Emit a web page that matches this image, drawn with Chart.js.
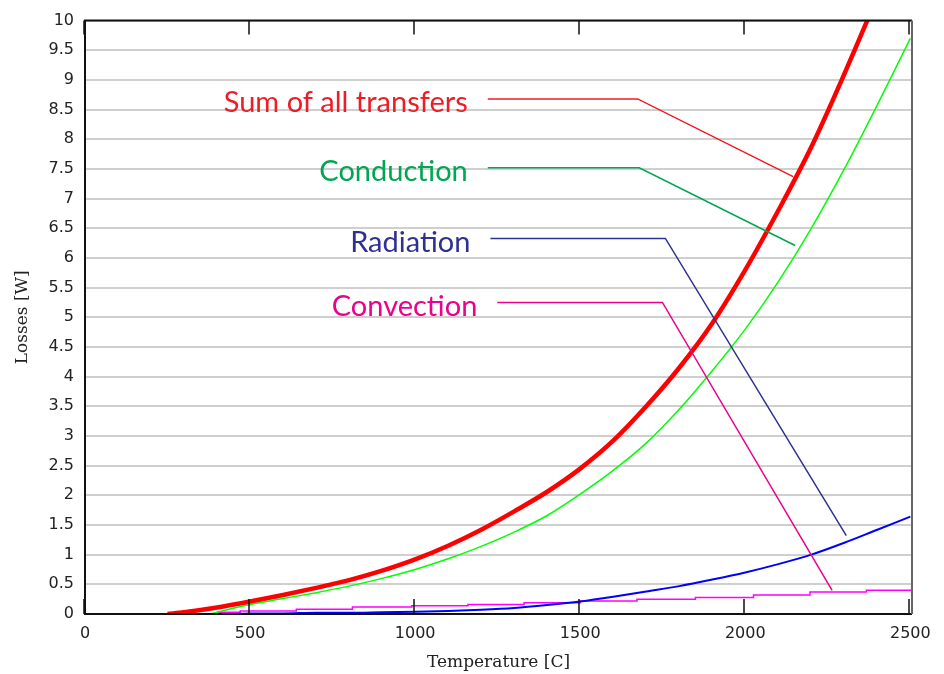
<!DOCTYPE html>
<html>
<head>
<meta charset="utf-8">
<title>Losses vs temperature</title>
<script src="https://cdn.jsdelivr.net/npm/chart.js@4.4.0/dist/chart.umd.min.js"></script>
<style>
  html, body { margin: 0; padding: 0; background: #fff; }
</style>
</head>
<body>
<canvas id="lossChart" width="944" height="674"></canvas>
<script>
// tick labels
const xTicks = [0, 500, 1000, 1500, 2000, 2500];
const yTicks = [0, 0.5, 1, 1.5, 2, 2.5, 3, 3.5, 4, 4.5, 5, 5.5, 6, 6.5, 7, 7.5, 8, 8.5, 9, 9.5, 10];

// Sum of all transfers (red)
const sumTemps = [250, 300, 400, 500, 600, 700, 800, 900, 1000, 1100, 1200, 1300, 1400, 1500, 1600, 1700, 1800, 1900, 2000, 2100, 2200, 2300, 2400];
const sumLosses = [0, 0.03, 0.11, 0.21, 0.32, 0.44, 0.57, 0.73, 0.92, 1.15, 1.42, 1.73, 2.06, 2.45, 2.92, 3.5, 4.15, 4.9, 5.8, 6.8, 7.87, 9.1, 10.4];

// Conduction (green)
const condTemps = [380, 400, 500, 600, 700, 800, 900, 1000, 1100, 1200, 1300, 1400, 1500, 1600, 1700, 1800, 1900, 2000, 2100, 2200, 2300, 2400, 2500];
const condLosses = [0, 0.03, 0.16, 0.26, 0.36, 0.47, 0.6, 0.75, 0.93, 1.14, 1.38, 1.66, 2.02, 2.42, 2.88, 3.45, 4.1, 4.8, 5.6, 6.5, 7.5, 8.58, 9.7];

// Radiation (blue)
const radTemps = [450, 500, 600, 700, 800, 900, 1000, 1100, 1200, 1300, 1400, 1500, 1600, 1700, 1800, 1900, 2000, 2100, 2200, 2300, 2400, 2500];
const radLosses = [0, 0.01, 0.01, 0.02, 0.02, 0.03, 0.04, 0.05, 0.07, 0.1, 0.15, 0.21, 0.29, 0.38, 0.47, 0.58, 0.7, 0.84, 1.0, 1.2, 1.42, 1.64];

// Convection (magenta), steps
const convTemps = [400, 470, 640, 810, 990, 1160, 1330, 1500, 1672, 1849, 2025, 2196, 2367, 2505];
const convLosses = [0.03, 0.05, 0.08, 0.12, 0.14, 0.16, 0.19, 0.22, 0.25, 0.28, 0.32, 0.37, 0.4, 0.4];

// callout labels and their leader lines (data units)
const labelNames = ['Sum of all transfers', 'Conduction', 'Radiation', 'Convection'];
const labelColors = ['#ee1c25', '#00a651', '#2e3192', '#ec008c'];
const leaderTemps = [[1220, 1674, 2145], [1220, 1679, 2151], [1228, 1758, 2306], [1249, 1749, 2263]];
const leaderLosses = [[8.68, 8.68, 7.37], [7.52, 7.52, 6.21], [6.33, 6.33, 1.32], [5.25, 5.25, 0.4]];

function toPoints(xs, ys) {
    return xs.map((x, i) => ({ x: x, y: ys[i] }));
}

// frame, inner tick marks and callout texts
const framePlugin = {
    id: 'frame',
    afterDraw(chart) {
        const ctx = chart.ctx;
        const a = chart.chartArea;
        const x = chart.scales.x;
        const y = chart.scales.y;
        ctx.save();

        ctx.strokeStyle = '#111';
        ctx.lineWidth = 1.5;
        x.ticks.forEach(t => {
            const px = Math.round(x.getPixelForValue(t.value)) - 1;
            ctx.beginPath();
            ctx.moveTo(px, a.bottom);
            ctx.lineTo(px, a.bottom - 15);
            ctx.moveTo(px, a.top);
            ctx.lineTo(px, a.top + 14);
            ctx.stroke();
        });

        ctx.lineWidth = 2;
        ctx.strokeStyle = '#111';
        ctx.beginPath();
        ctx.moveTo(a.right, a.top);
        ctx.lineTo(a.left, a.top);
        ctx.lineTo(a.left, a.bottom);
        ctx.lineTo(a.right, a.bottom);
        ctx.stroke();
        ctx.strokeStyle = '#666';
        ctx.beginPath();
        ctx.moveTo(a.right, a.top);
        ctx.lineTo(a.right, a.bottom);
        ctx.stroke();

        ctx.font = '29px Lato';
        ctx.textAlign = 'right';
        ctx.textBaseline = 'alphabetic';
        labelNames.forEach((name, i) => {
            ctx.fillStyle = labelColors[i];
            const px = x.getPixelForValue(leaderTemps[i][0]) - 20;
            const py = y.getPixelForValue(leaderLosses[i][0]) + 13.5;
            ctx.fillText(name, px, py);
        });
        ctx.restore();
    }
};

const leaderSets = labelNames.map((name, i) => ({
    label: name + ' leader',
    data: toPoints(leaderTemps[i], leaderLosses[i]),
    borderColor: labelColors[i],
    borderWidth: 1.5,
    pointRadius: 0,
    tension: 0
}));

new Chart(document.getElementById('lossChart'), {
    type: 'line',
    data: {
        datasets: leaderSets.concat([
            {
                label: 'Sum of all transfers',
                data: toPoints(sumTemps, sumLosses),
                borderColor: '#ff0000',
                borderWidth: 4.5,
                pointRadius: 0,
                cubicInterpolationMode: 'monotone'
            },
            {
                label: 'Conduction',
                data: toPoints(condTemps, condLosses),
                borderColor: '#00ff00',
                borderWidth: 1.5,
                pointRadius: 0,
                cubicInterpolationMode: 'monotone'
            },
            {
                label: 'Radiation',
                data: toPoints(radTemps, radLosses),
                borderColor: '#0000ff',
                borderWidth: 2,
                pointRadius: 0,
                cubicInterpolationMode: 'monotone'
            },
            {
                label: 'Convection',
                data: toPoints(convTemps, convLosses),
                borderColor: '#ff00ff',
                borderWidth: 1.5,
                pointRadius: 0,
                stepped: 'before'
            }
        ])
    },
    options: {
        responsive: false,
        animation: false,
        layout: { padding: { top: 12, right: 32, left: 0, bottom: 0 } },
        plugins: {
            legend: { display: false },
            tooltip: { enabled: false }
        },
        scales: {
            x: {
                type: 'linear',
                min: 0,
                max: 2505,
                afterBuildTicks: s => { s.ticks = xTicks.map(v => ({ value: v })); },
                afterFit: s => { s.height = 60; },
                grid: { display: false, drawTicks: false },
                border: { display: false },
                ticks: {
                    padding: 10,
                    color: '#222',
                    font: { family: 'DejaVu Sans', size: 16 },
                    maxRotation: 0,
                    callback: v => String(v)
                },
                title: {
                    display: true,
                    text: 'Temperature [C]',
                    color: '#222',
                    font: { family: 'DejaVu Serif', size: 17 },
                    padding: { top: 0, bottom: 1 }
                }
            },
            y: {
                min: 0,
                max: 10,
                afterBuildTicks: s => { s.ticks = yTicks.map(v => ({ value: v })); },
                afterFit: s => { s.width = 85; },
                grid: { color: '#cfcfcf', lineWidth: 2, drawTicks: false },
                border: { display: false },
                ticks: {
                    padding: 11,
                    color: '#222',
                    font: { family: 'DejaVu Sans', size: 16 },
                    callback: v => String(v)
                },
                title: {
                    display: true,
                    text: 'Losses [W]',
                    color: '#222',
                    font: { family: 'DejaVu Serif', size: 17 },
                    padding: { top: 12, bottom: 0 }
                }
            }
        }
    },
    plugins: [framePlugin]
});
</script>
</body>
</html>
